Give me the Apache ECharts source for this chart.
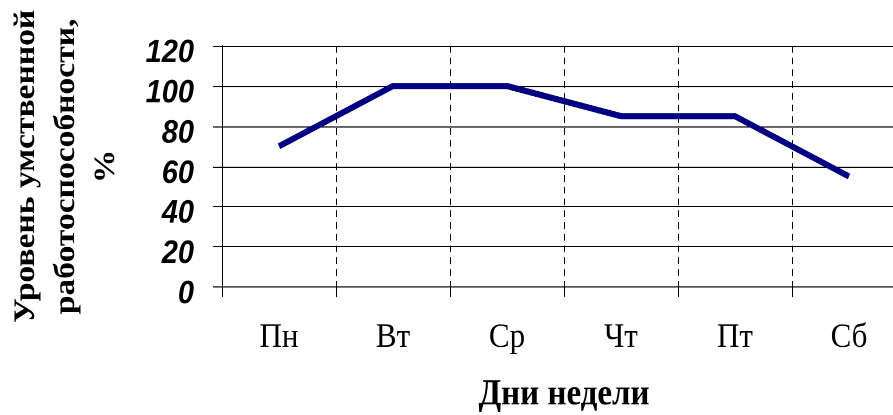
<!DOCTYPE html>
<html>
<head>
<meta charset="utf-8">
<script src="https://cdn.jsdelivr.net/npm/echarts@6/dist/echarts.min.js"></script>
<style>
  html, body { margin: 0; padding: 0; background: #fff; width: 893px; height: 415px; }
  /* исходный график растянут по вертикали, повторяем это */
  #main { width: 893px; height: 371px; transform: scaleY(1.1186); transform-origin: 0 0; }
</style>
</head>
<body>
<div id="main"></div>
<script>
// дни недели и уровень работоспособности
var days = ['Пн', 'Вт', 'Ср', 'Чт', 'Пт', 'Сб'];
var workLevel = [70, 100, 100, 85, 85, 55];
var yTicks = { min: 0, max: 120, step: 20 };

var myChart = echarts.init(document.getElementById('main'), null, { devicePixelRatio: 2 });

var option = {
  animation: false,
  grid: {
    left: 222,
    top: 41,
    width: 684,
    height: 215.5,
    outerBoundsMode: 'none',
    containLabel: false,
  },
  xAxis: {
    type: 'category',
    data: days,
    boundaryGap: true,
    name: 'Дни недели',
    nameLocation: 'middle',
    nameGap: 80,
    nameMoveOverlap: false,
    nameTextStyle: {
      fontFamily: 'Liberation Serif',
      fontWeight: 'bold',
      fontSize: 33,
      color: '#000',
    },
    axisLine: { lineStyle: { color: '#000', width: 1 } },
    axisTick: { show: true, length: 9, lineStyle: { color: '#000' } },
    axisLabel: {
      margin: 30,
      fontFamily: 'Liberation Serif',
      fontSize: 31,
      color: '#000',
    },
    splitLine: {
      show: true,
      lineStyle: { color: '#000', type: [6, 4.5], width: 1 },
    },
  },
  yAxis: {
    type: 'value',
    min: yTicks.min,
    max: yTicks.max,
    interval: yTicks.step,
    name: 'Уровень умственной\nработоспособности,\n%',
    nameLocation: 'middle',
    nameGap: 96,
    nameMoveOverlap: false,
    nameTextStyle: {
      fontFamily: 'Liberation Serif',
      fontWeight: 'bold',
      fontSize: 30,
      lineHeight: 40,
      color: '#000',
      align: 'center',
    },
    axisLine: { show: true, lineStyle: { color: '#000', width: 1 } },
    axisTick: { show: true, length: 9, lineStyle: { color: '#000' } },
    axisLabel: {
      margin: 28,
      fontFamily: 'Liberation Sans',
      fontWeight: 'bold',
      fontStyle: 'italic',
      fontSize: 29,
      color: '#000',
      // подписи чуть ниже линий сетки
      verticalAlign: 'top',
      lineHeight: 13,
    },
    splitLine: {
      show: true,
      lineStyle: { color: '#000', width: 1 },
    },
  },
  series: [
    {
      type: 'line',
      data: workLevel,
      symbol: 'none',
      lineStyle: { color: '#000080', width: 5.5, cap: 'butt', join: 'miter' },
    },
  ],
};

myChart.setOption(option);
</script>
</body>
</html>
